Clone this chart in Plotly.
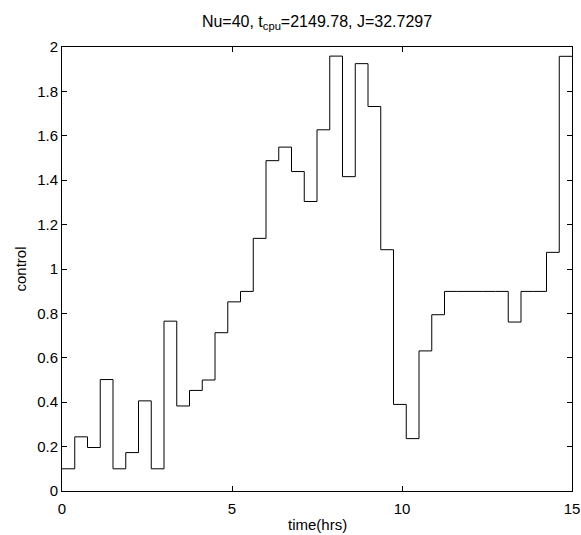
import numpy as np
import plotly.graph_objects as go

n_intervals = 40
t_final = 15.0
control = [0.10, 0.244, 0.196, 0.502, 0.10, 0.173, 0.406, 0.10, 0.765, 0.383,
           0.453, 0.50, 0.713, 0.852, 0.899, 1.138, 1.488, 1.549, 1.439, 1.304,
           1.627, 1.959, 1.416, 1.925, 1.732, 1.087, 0.39, 0.236, 0.631, 0.794,
           0.899, 0.899, 0.899, 0.899, 0.899, 0.761, 0.899, 0.899, 1.075, 1.958]
x_ticks = [0, 5, 10, 15]
y_ticks = [0, 0.2, 0.4, 0.6, 0.8, 1, 1.2, 1.4, 1.6, 1.8, 2]
y_ticklabels = ["0", "0.2", "0.4", "0.6", "0.8", "1", "1.2", "1.4", "1.6", "1.8", "2"]

dt = t_final / n_intervals
t = [i * dt for i in range(n_intervals + 1)]
u = control + [control[-1]]

FONT = "Liberation Sans, Arial"
fig = go.Figure()
fig.add_trace(go.Scatter(x=t, y=u, mode="lines", line=dict(shape="hv", color="black", width=1),
                         showlegend=False, hoverinfo="skip"))

axis_common = dict(showline=True, linecolor="black", linewidth=1, mirror="ticks",
                   ticks="inside", ticklen=5, tickcolor="black", showgrid=False, zeroline=False,
                   automargin=False,
                   tickfont=dict(family=FONT, size=15, color="black"))

fig.update_layout(
    width=581, height=535,
    margin=dict(l=62, r=9, t=47, b=44),
    paper_bgcolor="white", plot_bgcolor="white",
    title=dict(text="Nu=40, t<sub>cpu</sub>=2149.78, J=32.7297", x=(62 + 572) / 2 / 581, xanchor="center",
               xref="container", yref="container",
               y=1 - 21 / 535, yanchor="middle",
               font=dict(family=FONT, size=16, color="black")),
    xaxis=dict(range=[0, 15], tickvals=x_ticks, ticktext=[str(v) for v in x_ticks],
               ticklabelstandoff=4, **axis_common),
    yaxis=dict(range=[0, 2], tickvals=y_ticks, ticktext=y_ticklabels,
               title=dict(text="control", standoff=6,
                          font=dict(family=FONT, size=15, color="black")),
               **axis_common),
    annotations=[dict(text="time(hrs)", xref="paper", yref="paper", x=0.5, y=-(524 - 491) / 444,
                      xanchor="center", yanchor="middle", showarrow=False,
                      font=dict(family=FONT, size=15, color="black"))],
)

fig.write_html("out.html", config={"displayModeBar": False},
               post_script="document.body.style.margin='0';document.body.style.padding='0';")
